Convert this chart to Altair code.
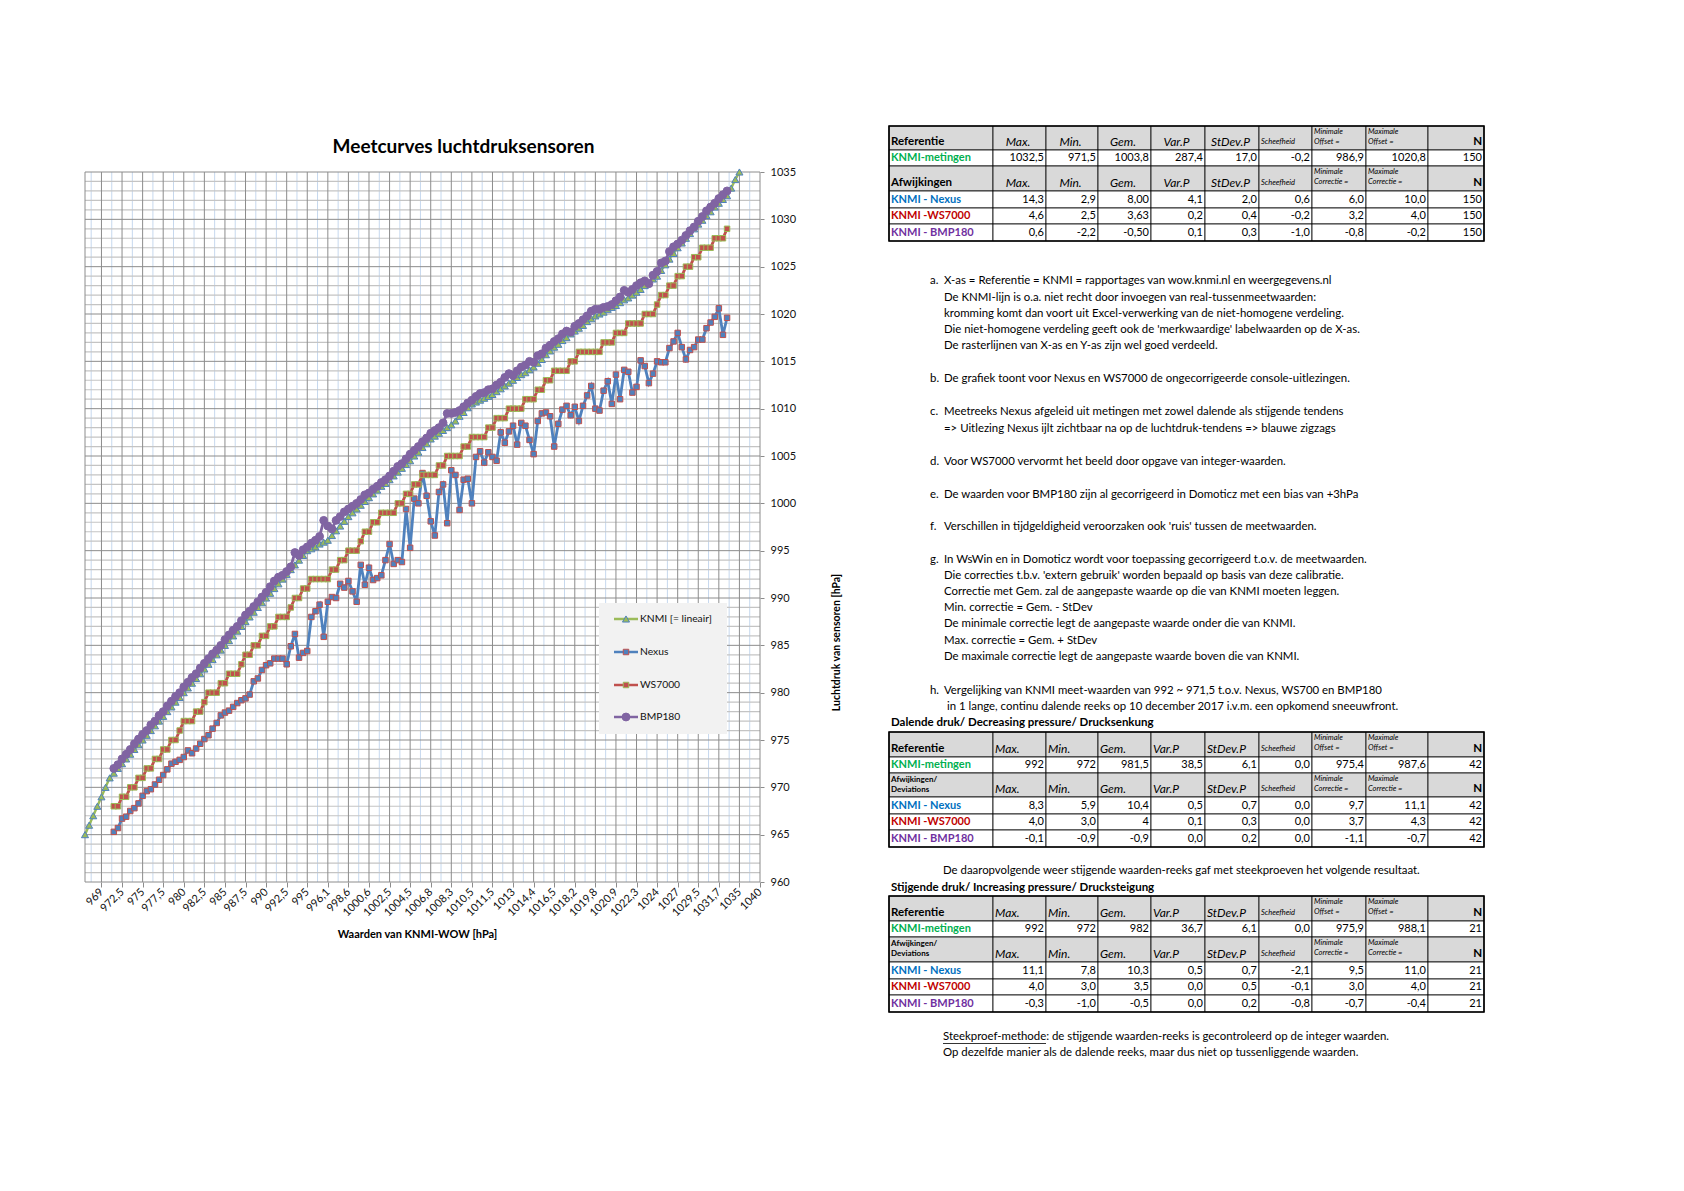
import altair as alt
import pandas as pd

# ------------------------------------------------------------------ data
SERIES = ["KNMI [= lineair]", "Nexus", "WS7000", "BMP180"]

X_LABELS = ["969", "972,5", "975", "977,5", "980", "982,5", "985", "987,5", "990", "992,5",
            "995", "996,1", "998,6", "1000,6", "1002,5", "1004,5", "1006,8", "1008,3",
            "1010,5", "1011,5", "1013", "1014,4", "1016,5", "1018,2", "1019,8", "1020,9",
            "1022,3", "1024", "1027", "1029,5", "1031,7", "1035", "1040"]

# KNMI reference, category 0..159
KNMI = [965, 966, 967, 968, 969, 970, 971,
        971.5, 972, 972.5, 973, 973.5, 974, 974.5, 975, 975.5, 976, 976.5, 977, 977.5, 978,
        978.5, 979, 979.5, 980, 980.5, 981, 981.5, 982, 982.5, 983, 983.5, 984, 984.5, 985,
        985.5, 986, 986.5, 987, 987.5, 988, 988.5, 989, 989.5, 990, 990.5, 991, 991.5, 992,
        992.5, 993, 993.5, 994, 994.5, 995,
        995.2, 995.4, 995.7, 995.9, 996.1,
        996.6, 997.1, 997.6, 998.1, 998.6,
        999.0, 999.4, 999.8, 1000.2, 1000.6,
        1001.0, 1001.4, 1001.8, 1002.1, 1002.5,
        1002.9, 1003.3, 1003.7, 1004.1, 1004.5,
        1005.0, 1005.4, 1005.9, 1006.3, 1006.8,
        1007.1, 1007.4, 1007.7, 1008.0, 1008.3,
        1008.7, 1009.2, 1009.6, 1010.1, 1010.5,
        1010.7, 1010.9, 1011.1, 1011.3, 1011.5,
        1011.8, 1012.1, 1012.4, 1012.7, 1013.0,
        1013.3, 1013.6, 1013.8, 1014.1, 1014.4,
        1014.8, 1015.2, 1015.7, 1016.1, 1016.5,
        1016.8, 1017.2, 1017.5, 1017.9, 1018.2,
        1018.5, 1018.8, 1019.2, 1019.5, 1019.8,
        1020.0, 1020.2, 1020.5, 1020.7, 1020.9,
        1021.2, 1021.5, 1021.7, 1022.0, 1022.3,
        1022.6, 1023.0, 1023.3, 1023.7, 1024.0,
        1024.6, 1025.2, 1025.8, 1026.4, 1027.0,
        1027.5, 1028.0, 1028.5, 1029.0, 1029.5,
        1029.9, 1030.4, 1030.8, 1031.3, 1031.7,
        1032.1, 1032.5, 1033.3, 1034.2, 1035.0]

# sensor series, category 7..156
NEXUS = [965.3, 965.7, 966.7, 966.9, 967.5, 967.8, 968.3, 969.1, 969.6, 969.8,
         970.3, 970.8, 971.3, 971.9, 972.5, 972.7, 972.9, 973.2, 973.9, 973.6,
         974.1, 974.6, 975.1, 975.5, 976.2, 976.8, 977.6, 977.9, 978.1, 978.5,
         978.9, 979.2, 979.4, 979.8, 981.2, 981.5, 982.4, 982.9, 983.1, 983.6,
         983.6, 983.6, 983.0, 984.9, 986.2, 983.7, 984.2, 984.4, 988.0, 988.6,
         989.3, 985.9, 989.6, 990.1, 990.0, 991.5, 991.1, 991.8, 990.7, 989.6,
         993.5, 991.4, 993.2, 991.9, 992.1, 992.4, 994.0, 995.7, 993.6, 994.0,
         993.8, 999.4, 995.3, 1000.5, 1000.0, 1003.2, 1000.8, 998.1, 996.6, 1001.2,
         1002.0, 997.9, 1003.5, 1003.0, 999.3, 1002.5, 1002.6, 1000.0, 1004.9, 1005.5,
         1004.3, 1005.4, 1004.9, 1004.5, 1007.5, 1006.4, 1007.6, 1008.2, 1006.2, 1008.5,
         1008.2, 1006.7, 1005.2, 1008.7, 1009.5, 1009.6, 1009.2, 1006.0, 1008.4, 1009.9,
         1010.3, 1009.3, 1010.2, 1008.7, 1010.3, 1011.4, 1012.4, 1010.0, 1009.8, 1011.9,
         1012.9, 1010.5, 1013.6, 1011.0, 1014.1, 1013.9, 1011.7, 1012.3, 1015.1, 1014.5,
         1012.7, 1013.7, 1015.0, 1014.9, 1014.9, 1016.4, 1017.1, 1018.0, 1016.5, 1015.2,
         1016.2, 1016.5, 1017.3, 1017.3, 1018.5, 1019.1, 1019.7, 1020.6, 1017.8, 1019.6]

WS7000 = [968, 968, 969, 969, 970, 970, 971, 971, 972, 972,
          973, 973, 974, 974, 975, 975, 976, 977, 977, 977,
          978, 978, 979, 980, 980, 980, 981, 981, 982, 982,
          982, 983, 984, 984, 985, 985, 986, 986, 987, 987,
          988, 988, 988, 989, 990, 990, 991, 991, 992, 992,
          992, 992, 992, 993, 993, 994, 994, 995, 995, 995,
          996, 997, 997, 998, 998, 999, 999, 999, 999, 1000,
          1000, 1001, 1001, 1002, 1002, 1003, 1003, 1003, 1003, 1004,
          1004, 1005, 1005, 1005, 1005, 1006, 1006, 1007, 1007, 1007,
          1007, 1008, 1008, 1009, 1009, 1009, 1010, 1010, 1010, 1010,
          1011, 1011, 1011, 1012, 1012, 1013, 1013, 1014, 1014, 1014,
          1014, 1015, 1015, 1016, 1016, 1016, 1016, 1016, 1016, 1017,
          1017, 1017, 1018, 1018, 1018, 1019, 1019, 1019, 1019, 1020,
          1020, 1020, 1021, 1022, 1022, 1023, 1023, 1024, 1024, 1025,
          1025, 1026, 1026, 1027, 1027, 1027, 1028, 1028, 1028, 1029]

BMP180 = [972.0, 972.4, 973.0, 973.5, 974.0, 974.6, 975.1, 975.6, 976.0, 976.6,
          977.0, 977.6, 978.0, 978.6, 979.1, 979.6, 980.0, 980.6, 981.1, 981.6,
          982.0, 982.6, 983.1, 983.6, 984.1, 984.5, 985.0, 985.6, 986.1, 986.6,
          987.0, 987.6, 988.2, 988.6, 989.1, 989.6, 990.1, 990.6, 991.2, 991.8,
          992.2, 992.4, 992.8, 993.3, 994.8, 994.5, 995.1, 995.4, 995.8, 996.1,
          996.5, 998.2, 997.6, 997.3, 998.2, 998.6, 999.1, 999.4, 999.7, 1000.0,
          1000.4, 1000.9, 1001.1, 1001.5, 1001.8, 1002.2, 1002.5, 1002.9, 1003.4, 1003.9,
          1004.2, 1004.7, 1005.2, 1005.6, 1006.0, 1006.5, 1006.9, 1007.4, 1007.7, 1008.0,
          1008.5, 1009.5, 1009.5, 1009.6, 1009.8, 1010.2, 1010.6, 1010.9, 1011.3, 1011.6,
          1011.7, 1012.0, 1012.1, 1012.5, 1012.8, 1013.3, 1013.7, 1013.5, 1014.0, 1014.4,
          1014.6, 1015.0, 1014.9, 1015.6, 1015.8, 1016.4, 1016.7, 1017.1, 1017.4, 1017.9,
          1018.2, 1018.1, 1018.7, 1019.0, 1019.4, 1019.8, 1020.3, 1020.5, 1020.5, 1020.7,
          1020.8, 1021.0, 1021.4, 1021.8, 1022.5, 1022.3, 1022.6, 1023.0, 1023.3, 1023.5,
          1023.2, 1024.1, 1024.5, 1025.4, 1025.6, 1026.6, 1027.1, 1027.4, 1027.8, 1028.3,
          1028.8, 1029.2, 1029.8, 1030.3, 1030.9, 1031.3, 1031.7, 1032.2, 1032.6, 1033.0]

# ---- tables
HEAD_REF = ["Referentie", "Max.", "Min.", "Gem.", "Var.P", "StDev.P", "Scheefheid",
            "Minimale\nOffset =", "Maximale\nOffset =", "N"]
HEAD_DEV1 = ["Afwijkingen", "Max.", "Min.", "Gem.", "Var.P", "StDev.P", "Scheefheid",
             "Minimale\nCorrectie =", "Maximale\nCorrectie =", "N"]
HEAD_DEV2 = ["Afwijkingen/\nDeviations", "Max.", "Min.", "Gem.", "Var.P", "StDev.P", "Scheefheid",
             "Minimale\nCorrectie =", "Maximale\nCorrectie =", "N"]
ROW_LABELS = ["KNMI-metingen", "KNMI - Nexus", "KNMI -WS7000", "KNMI - BMP180"]

T1_VALUES = [["1032,5", "971,5", "1003,8", "287,4", "17,0", "-0,2", "986,9", "1020,8", "150"],
             ["14,3", "2,9", "8,00", "4,1", "2,0", "0,6", "6,0", "10,0", "150"],
             ["4,6", "2,5", "3,63", "0,2", "0,4", "-0,2", "3,2", "4,0", "150"],
             ["0,6", "-2,2", "-0,50", "0,1", "0,3", "-1,0", "-0,8", "-0,2", "150"]]
T2_VALUES = [["992", "972", "981,5", "38,5", "6,1", "0,0", "975,4", "987,6", "42"],
             ["8,3", "5,9", "10,4", "0,5", "0,7", "0,0", "9,7", "11,1", "42"],
             ["4,0", "3,0", "4", "0,1", "0,3", "0,0", "3,7", "4,3", "42"],
             ["-0,1", "-0,9", "-0,9", "0,0", "0,2", "0,0", "-1,1", "-0,7", "42"]]
T3_VALUES = [["992", "972", "982", "36,7", "6,1", "0,0", "975,9", "988,1", "21"],
             ["11,1", "7,8", "10,3", "0,5", "0,7", "-2,1", "9,5", "11,0", "21"],
             ["4,0", "3,0", "3,5", "0,0", "0,5", "-0,1", "3,0", "4,0", "21"],
             ["-0,3", "-1,0", "-0,5", "0,0", "0,2", "-0,8", "-0,7", "-0,4", "21"]]
T2_TITLE = "Dalende druk/ Decreasing pressure/ Drucksenkung"
T3_TITLE = "Stijgende druk/ Increasing pressure/ Drucksteigung"

NOTES = [
    ("a.", "X-as = Referentie = KNMI = rapportages van wow.knmi.nl en weergegevens.nl"),
    ("", "De KNMI-lijn is o.a. niet recht door invoegen van real-tussenmeetwaarden:"),
    ("", "kromming komt dan voort uit Excel-verwerking van de niet-homogene verdeling."),
    ("", "Die niet-homogene verdeling geeft ook de 'merkwaardige' labelwaarden op de X-as."),
    ("", "De rasterlijnen van X-as en Y-as zijn wel goed verdeeld."),
    ("b.", "De grafiek toont voor Nexus en WS7000 de ongecorrigeerde console-uitlezingen."),
    ("c.", "Meetreeks Nexus afgeleid uit metingen met zowel dalende als stijgende tendens"),
    ("", "=> Uitlezing Nexus ijlt zichtbaar na op de luchtdruk-tendens => blauwe zigzags"),
    ("d.", "Voor WS7000 vervormt het beeld door opgave van integer-waarden."),
    ("e.", "De waarden voor BMP180 zijn al gecorrigeerd in Domoticz met een bias van +3hPa"),
    ("f.", "Verschillen in tijdgeldigheid veroorzaken ook 'ruis' tussen de meetwaarden."),
    ("g.", "In WsWin en in Domoticz wordt voor toepassing gecorrigeerd t.o.v. de meetwaarden."),
    ("", "Die correcties t.b.v. 'extern gebruik' worden bepaald op basis van deze calibratie."),
    ("", "Correctie met Gem. zal de aangepaste waarde op die van KNMI moeten leggen."),
    ("", "Min. correctie = Gem. - StDev"),
    ("", "De minimale correctie legt de aangepaste waarde onder die van KNMI."),
    ("", "Max. correctie = Gem. + StDev"),
    ("", "De maximale correctie legt de aangepaste waarde boven die van KNMI."),
    ("h.", "Vergelijking van KNMI meet-waarden van 992 ~ 971,5 t.o.v. Nexus, WS700 en BMP180"),
    ("", "in 1 lange, continu dalende reeks op 10 december 2017 i.v.m. een opkomend sneeuwfront."),
]
MID_NOTE = "De daaropvolgende weer stijgende waarden-reeks gaf met steekproeven het volgende resultaat."
FOOT_NOTES = ["Steekproef-methode: de stijgende waarden-reeks is gecontroleerd op de integer waarden.",
              "Op dezelfde manier als de dalende reeks, maar dus niet op tussenliggende waarden."]

# ------------------------------------------------------------------ styles / layout
FONT = "Lato"
NOTE_FS = 11.4
STY = [dict(line="#9BBB59", shape="triangle-up", fill="#9BBB59", stroke="#4F81BD", size=50, lw=2.4),
       dict(line="#4F81BD", shape="square", fill="#4F81BD", stroke="#C0504D", size=30, lw=2.8),
       dict(line="#C0504D", shape="square", fill="#C0504D", stroke="#9BBB59", size=30, lw=2.8),
       dict(line="#8064A2", shape="circle", fill="#8064A2", stroke="#8064A2", size=62, lw=2.8)]
ROW_COLORS = ["#000000", "#00B050", "#000000", "#0070C0", "#C00000", "#7030A0"]

W, H = 675, 710
N_CAT = 165
FIRST = 7

# ------------------------------------------------------------------ left chart
recs = []
for name, vals, start in [(SERIES[0], KNMI, 0), (SERIES[1], NEXUS, FIRST),
                          (SERIES[2], WS7000, FIRST), (SERIES[3], BMP180, FIRST)]:
    for k, v in enumerate(vals):
        recs.append({"series": name, "idx": start + k, "value": v})
df = pd.DataFrame(recs)

xs = alt.Scale(domain=[0, N_CAT - 1], nice=False, zero=False)
ys = alt.Scale(domain=[960, 1035], nice=False, zero=False)

MAJ_X = list(range(4, N_CAT, 5))
MIN_X = [v + 2.5 for v in range(-1, N_CAT - 5, 5)]
MAJ_Y = list(range(960, 1036, 5))
MIN_Y = [v for v in range(961, 1035) if v % 5]

lab_arr = "[" + ",".join("'%s'" % s for s in X_LABELS) + "]"
x_axis = alt.Axis(values=MAJ_X, labelExpr=lab_arr + "[round((datum.value - 4) / 5)]",
                  labelAngle=-45, labelAlign="right", labelBaseline="middle",
                  labelFontSize=11, labelFont=FONT, labelColor="#111111", labelPadding=3,
                  labelOverlap=False, tickSize=5, tickColor="#8c8c8c", domain=False, grid=False,
                  title="Waarden van KNMI-WOW [hPa]", titleFont=FONT, titleFontSize=11,
                  titleFontWeight="bold", titleColor="#000000", titleX=332, titleY=52,
                  titleAlign="center", titleBaseline="middle")
y_axis = alt.Axis(orient="right", values=MAJ_Y, format="d", labelFontSize=11, labelFont=FONT,
                  labelColor="#111111", labelPadding=6, labelOverlap=False, tickSize=4,
                  tickColor="#8c8c8c", domain=False, grid=False,
                  title="Luchtdruk van sensoren [hPa]", titleFont=FONT, titleFontSize=10.5,
                  titleFontWeight="bold", titleColor="#000000", titleAngle=270,
                  titleX=76, titleY=470, titleAlign="center", titleBaseline="middle")


def X(field):
    return alt.X(field, scale=xs, axis=x_axis)


def Y(field):
    return alt.Y(field, scale=ys, axis=y_axis)


g_minx = alt.Chart(pd.DataFrame({"gx": MIN_X})).mark_rule(color="#c6d8ee", strokeWidth=1).encode(
    x=X("gx:Q"))
g_miny = alt.Chart(pd.DataFrame({"gy": MIN_Y})).mark_rule(color="#c4c4c4", strokeWidth=1.2).encode(
    y=Y("gy:Q"))
g_majx = alt.Chart(pd.DataFrame({"gx": [0] + MAJ_X})).mark_rule(color="#8c8c8c", strokeWidth=1).encode(
    x=X("gx:Q"))
g_majy = alt.Chart(pd.DataFrame({"gy": MAJ_Y})).mark_rule(color="#8c8c8c", strokeWidth=1).encode(
    y=Y("gy:Q"))

layers = [g_minx, g_miny, g_majx, g_majy]
for name, st in zip(SERIES, STY):
    base = alt.Chart(df).transform_filter(alt.datum.series == name)
    layers.append(base.mark_line(color=st["line"], strokeWidth=st["lw"]).encode(
        x=X("idx:Q"), y=Y("value:Q")))
    layers.append(base.mark_point(shape=st["shape"], filled=True, fill=st["fill"], stroke=st["stroke"],
                                  strokeWidth=1, size=st["size"], fillOpacity=1, strokeOpacity=1).encode(
        x=X("idx:Q"), y=Y("value:Q")))

# legend (inside plot area, like the Excel legend box)
LEG_BOX = (514, 642, 431, 562)
LEG_Y = [447, 480, 513, 545]
one = pd.DataFrame({"a": [0]})
layers.append(alt.Chart(one).mark_rect(fill="#f2f2f2").encode(
    x=alt.value(LEG_BOX[0]), x2=alt.value(LEG_BOX[1]), y=alt.value(LEG_BOX[2]), y2=alt.value(LEG_BOX[3])))
for k, (name, st) in enumerate(zip(SERIES, STY)):
    d = pd.DataFrame({"series": [name]})
    layers.append(alt.Chart(d).mark_rule(color=st["line"], strokeWidth=2.5).encode(
        x=alt.value(529), x2=alt.value(553), y=alt.value(LEG_Y[k])))
    layers.append(alt.Chart(d).mark_point(shape=st["shape"], filled=True, fill=st["fill"],
                                          stroke=st["stroke"], strokeWidth=1, size=st["size"],
                                          fillOpacity=1, strokeOpacity=1).encode(
        x=alt.value(541), y=alt.value(LEG_Y[k])))
    layers.append(alt.Chart(d).mark_text(align="left", baseline="middle", font=FONT, fontSize=10.3,
                                         color="#111111").encode(
        x=alt.value(555), y=alt.value(LEG_Y[k]), text="series:N"))

left = alt.layer(*layers).properties(
    width=W, height=H,
    title=alt.TitleParams("Meetcurves luchtdruksensoren", font=FONT, fontSize=19, fontWeight="bold",
                          color="#000000", anchor="middle", offset=9, dx=41))

# ------------------------------------------------------------------ right panel (tables + notes)
RX0, RW = 880, 620          # page-x of the panel's left edge
RY0, RH = 172, 900          # page-y of the panel's top edge (aligned with the plot top)
rxs = alt.Scale(domain=[RX0, RX0 + RW], nice=False, zero=False)
rys = alt.Scale(domain=[RY0, RY0 + RH], nice=False, zero=False, reverse=True)

COLS = [889, 993, 1046, 1098, 1151, 1205, 1259, 1312, 1366, 1428, 1484]
TABLES = [([126, 150, 166, 191, 208, 224, 241], HEAD_REF, HEAD_DEV1, T1_VALUES, "center"),
          ([732, 757, 773, 797, 814, 830, 847], HEAD_REF, HEAD_DEV2, T2_VALUES, "left"),
          ([896, 921, 937, 962, 979, 995, 1012], HEAD_REF, HEAD_DEV2, T3_VALUES, "left")]

cells, outer, texts = [], [], []


def add_text(x, y, s, fs, grp, c="#000000"):
    texts.append(dict(tx=x, ty=y, text=s, fs=fs, c=c, grp=grp))


for Yedges, h1, h2, vals, hal in TABLES:
    content = [h1, [ROW_LABELS[0]] + vals[0], h2,
               [ROW_LABELS[1]] + vals[1], [ROW_LABELS[2]] + vals[2], [ROW_LABELS[3]] + vals[3]]
    outer.append(dict(x1=COLS[0], x2=COLS[-1], y1=Yedges[0], y2=Yedges[-1]))
    for r in range(6):
        y1, y2 = Yedges[r], Yedges[r + 1]
        head = r in (0, 2)
        for c in range(10):
            x1, x2 = COLS[c], COLS[c + 1]
            cells.append(dict(x1=x1, x2=x2, y1=y1, y2=y2, fill="#d9d9d9" if head else "#ffffff"))
            s = content[r][c]
            if head:
                if c == 0:
                    if "\n" in s:
                        add_text(x1 + 2, y1 + 3, s, 8, "lab2")
                    else:
                        add_text(x1 + 2, y2 - 8.5, s, 11.5, "lab")
                elif c == 9:
                    add_text(x2 - 2, y2 - 8.5, s, 11.5, "nb")
                elif c in (7, 8):
                    add_text(x1 + 2, y1 + 1.5, s, 7.5, "h2")
                elif c == 6:
                    add_text(x1 + 2, y2 - 8, s, 7.5, "hl")
                else:
                    if hal == "center":
                        add_text((x1 + x2) / 2 - 1.5, y2 - 8.5, s, 12, "hc")
                    else:
                        add_text(x1 + 2, y2 - 8.5, s, 12, "hl")
            else:
                if c == 0:
                    add_text(x1 + 2, (y1 + y2) / 2, s, 11, "lab", ROW_COLORS[r])
                else:
                    add_text(x2 - 2, (y1 + y2) / 2, s, 11, "num")

NOTE_Y = [281.4, 297.5, 313.6, 329.7, 345.8, 379.1, 412.4, 428.5, 461.8, 495.1, 527.4,
          559.6, 575.7, 591.8, 607.9, 624.0, 641.2, 657.3, 690.6, 706.7]
for (mk, s), y in zip(NOTES, NOTE_Y):
    if mk:
        add_text(930, y, mk, NOTE_FS, "note")
    add_text(947 if s.startswith("in 1 lange") else 944, y, s, NOTE_FS, "note")
add_text(891, 723, T2_TITLE, 11.5, "lab")
add_text(891, 888, T3_TITLE, 11.5, "lab")
add_text(943, 871, MID_NOTE, NOTE_FS, "note")
add_text(943, 1036.6, FOOT_NOTES[0], NOTE_FS, "note")
add_text(943, 1052.6, FOOT_NOTES[1], NOTE_FS, "note")

cells_df = pd.DataFrame(cells)
outer_df = pd.DataFrame(outer)
texts_df = pd.DataFrame(texts)

GROUPS = {
    "lab": dict(align="left", baseline="middle", fontWeight="bold"),
    "lab2": dict(align="left", baseline="top", fontWeight="bold", lineHeight=9.5),
    "hc": dict(align="center", baseline="middle", fontStyle="italic"),
    "hl": dict(align="left", baseline="middle", fontStyle="italic"),
    "h2": dict(align="left", baseline="top", fontStyle="italic", lineHeight=10.5),
    "nb": dict(align="right", baseline="middle", fontWeight="bold"),
    "num": dict(align="right", baseline="middle"),
    "note": dict(align="left", baseline="middle"),
}

RXE = alt.X("x1:Q", scale=rxs, axis=None)
RYE = alt.Y("y1:Q", scale=rys, axis=None)
rlayers = [
    alt.Chart(cells_df).mark_rect(stroke="#000000", strokeWidth=0.8).encode(
        x=RXE, x2="x2:Q", y=RYE, y2="y2:Q", fill=alt.Fill("fill:N", scale=None)),
    alt.Chart(outer_df).mark_rect(fillOpacity=0, stroke="#000000", strokeWidth=1.6).encode(
        x=RXE, x2="x2:Q", y=RYE, y2="y2:Q"),
]
for g, props in GROUPS.items():
    rlayers.append(alt.Chart(texts_df).transform_filter(alt.datum.grp == g).mark_text(
        font=FONT, lineBreak="\n", **props).encode(
        x=alt.X("tx:Q", scale=rxs, axis=None), y=alt.Y("ty:Q", scale=rys, axis=None),
        text="text:N", size=alt.Size("fs:Q", scale=None), color=alt.Color("c:N", scale=None)))
# underline of "Steekproef-methode"
rlayers.append(alt.Chart(pd.DataFrame({"u1": [943], "u2": [1046], "uy": [1043.5]})).mark_rule(
    color="#000000", strokeWidth=0.8).encode(
    x=alt.X("u1:Q", scale=rxs, axis=None), x2="u2:Q", y=alt.Y("uy:Q", scale=rys, axis=None)))

right = alt.layer(*rlayers).properties(width=RW, height=RH)

chart = alt.hconcat(left, right, spacing=RX0 - (85 + W), bounds="flush").properties(
    padding={"left": 71, "top": 117, "right": 5, "bottom": 5}
).configure(font=FONT, background="white").configure_view(strokeWidth=0, stroke="transparent")

chart.save("out.html", embed_options={"renderer": "svg", "actions": False})
